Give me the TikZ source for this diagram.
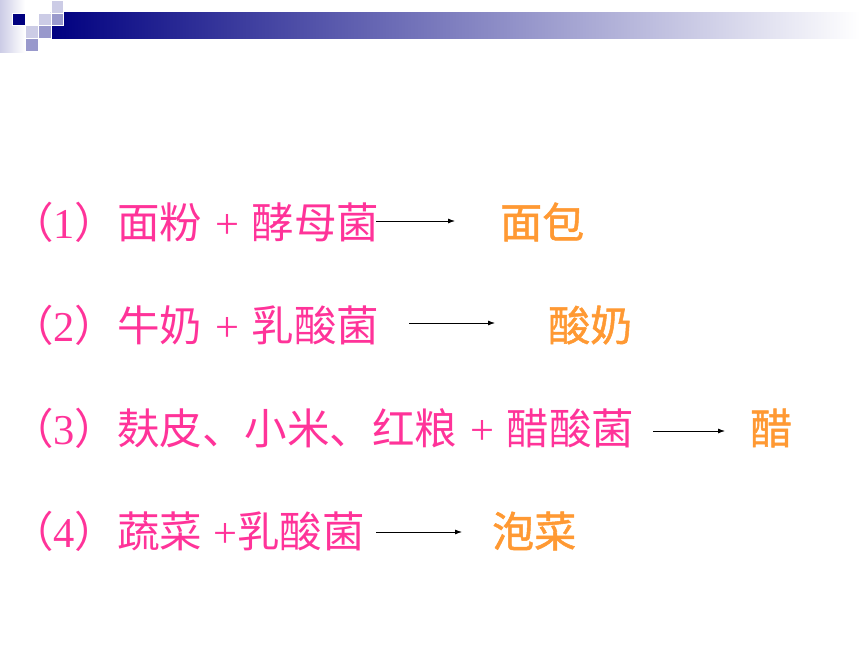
\documentclass[tikz,border=0pt]{standalone}
\usepackage{fontspec}
\setmainfont{Liberation Serif}
\newfontfamily\cjk{Noto Sans CJK SC}
\newfontfamily\cjkthick[FakeBold=1.2]{Noto Sans CJK SC}
\usetikzlibrary{arrows.meta,positioning}
\definecolor{navyblue}{HTML}{000080}
\definecolor{lightblue}{HTML}{CCCCE6}
\definecolor{midblue}{HTML}{9999CC}
\definecolor{pinktext}{HTML}{FF3399}
\definecolor{orangetext}{HTML}{FF9933}
\newcommand\zh[1]{{\cjk #1}}
\newcommand\plus{\hspace{2pt} + \hspace{2pt}}
\tikzset{
    src/.style={anchor=base west, inner sep=0pt, text=pinktext, font=\fontsize{42.5}{50}\selectfont},
    prd/.style={anchor=base west, inner sep=0pt, text=orangetext, font=\fontsize{42}{50}\selectfont\cjkthick},
    reacts/.style={-{Latex[length=7pt,width=5pt]}, line width=0.8pt, black},
    sq/.style={draw=white, line width=0.4pt}
}
\begin{document}
\begin{tikzpicture}[x=1pt,y=-1pt]
    \useasboundingbox (0,0) rectangle (860,645);
    % title bar
    \shade[left color=lightblue, right color=white] (0,0) rectangle (25,52);
    \shade[left color=navyblue, right color=white] (50.8,12.8) rectangle (860,38.4);
    \foreach \x/\y/\c in {12.4/12.8/navyblue, 38/12.8/lightblue, 50.8/0/lightblue, 50.8/12.8/midblue,
                          25.2/25.6/lightblue, 38/25.6/midblue, 25.2/38.4/midblue}
        \filldraw[sq, fill=\c] (\x,\y) rectangle ++(12.8,12.8);
    % the four lines
    \node[src] (src1) at (11,238) {\zh{（}1\zh{）面粉}\plus\zh{酵母菌}};
    \node[src] (src2) at (11,341) {\zh{（}2\zh{）牛奶}\plus\zh{乳酸菌}};
    \node[src] (src3) at (11,444) {\zh{（}3\zh{）麸皮、小米、红粮}\plus\zh{醋酸菌}};
    \node[src] (src4) at (11,547) {\zh{（}4\zh{）蔬菜} +\zh{乳酸菌}};
    \node[prd] (prd1) at (500,238) {面包};
    \node[prd] (prd2) at (548,341) {酸奶};
    \node[prd] (prd3) at (750,444) {醋};
    \node[prd] (prd4) at (492,547) {泡菜};
    \coordinate (s1) at (376,221); \coordinate (t1) at (455,221);
    \coordinate (s2) at (409,323); \coordinate (t2) at (495,323);
    \coordinate (s3) at (653,431); \coordinate (t3) at (725,431);
    \coordinate (s4) at (376,532); \coordinate (t4) at (462,532);
    \draw[reacts] (s1) -- (t1);
    \draw[reacts] (s2) -- (t2);
    \draw[reacts] (s3) -- (t3);
    \draw[reacts] (s4) -- (t4);
\end{tikzpicture}
\end{document}
